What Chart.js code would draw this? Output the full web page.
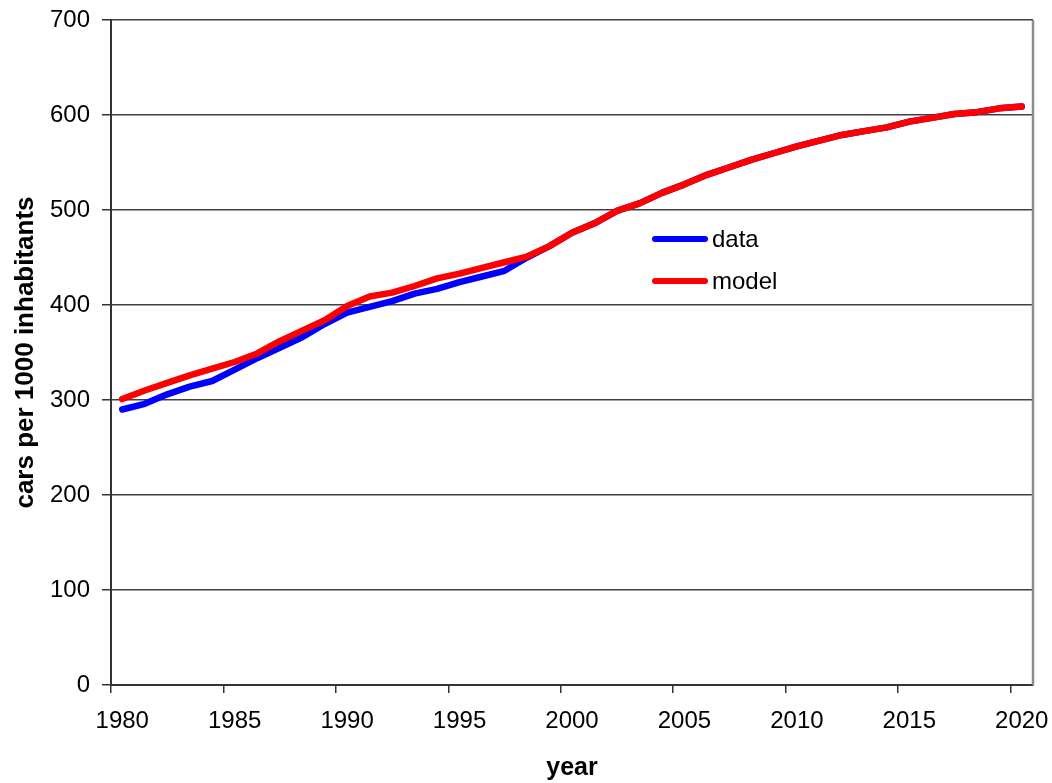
<!DOCTYPE html>
<html>
<head>
<meta charset="utf-8">
<title>cars per 1000 inhabitants</title>
<script src="https://cdn.jsdelivr.net/npm/chart.js@4.4.1/dist/chart.umd.min.js"></script>
<style>
  html, body { margin: 0; padding: 0; background: #fff; }
  #wrap { width: 1052px; height: 783px; position: relative; }
</style>
</head>
<body>
<div id="wrap"><canvas id="carsChart"></canvas></div>
<script>
// years on the category axis, 1980..2020
const years = ['1980', '1981', '1982', '1983', '1984', '1985', '1986', '1987', '1988', '1989',
    '1990', '1991', '1992', '1993', '1994', '1995', '1996', '1997', '1998', '1999',
    '2000', '2001', '2002', '2003', '2004', '2005', '2006', '2007', '2008', '2009',
    '2010', '2011', '2012', '2013', '2014', '2015', '2016', '2017', '2018', '2019', '2020'];

// observed car ownership
const dataValues = [290, 296, 306, 314, 320, 332, 344, 355, 366, 380,
    392, 398, 404, 412, 417, 424, 430, 436, 450, 462,
    476, 486, 499, 507, 518, 527, 537, 545, 553, 560,
    567, 573, 579, 583, 587, 593, 597, 601, 603, 607, 609];

// fitted model
const modelValues = [301, 310, 318, 326, 333, 340, 349, 362, 373, 384,
    399, 409, 413, 420, 428, 433, 439, 445, 451, 462,
    476, 486, 499, 507, 518, 527, 537, 545, 553, 560,
    567, 573, 579, 583, 587, 593, 597, 601, 603, 607, 609];

const yTicks = [0, 100, 200, 300, 400, 500, 600, 700];

const FONT = "'Liberation Sans', Arial, sans-serif";

// gray frame on the right side of the plot area
const plotFrame = {
    id: 'plotFrame',
    beforeDatasetsDraw(chart) {
        const { ctx, chartArea } = chart;
        ctx.save();
        ctx.strokeStyle = '#8c8c8c';
        ctx.lineWidth = 2.5;
        ctx.beginPath();
        ctx.moveTo(chartArea.right, chartArea.top);
        ctx.lineTo(chartArea.right, chartArea.bottom);
        ctx.stroke();
        ctx.restore();
    }
};

// legend box sitting inside the plot
const innerLegend = {
    id: 'innerLegend',
    afterDatasetsDraw(chart) {
        const { ctx, chartArea } = chart;
        const x0 = chartArea.left + 544;
        const y0 = chartArea.top + 219;
        ctx.save();
        ctx.font = '24px ' + FONT;
        ctx.textBaseline = 'middle';
        ctx.textAlign = 'left';
        chart.data.datasets.forEach((ds, i) => {
            const y = y0 + i * 42;
            ctx.strokeStyle = ds.borderColor;
            ctx.lineWidth = 6;
            ctx.lineCap = 'round';
            ctx.beginPath();
            ctx.moveTo(x0, y);
            ctx.lineTo(x0 + 50, y);
            ctx.stroke();
            ctx.fillStyle = '#000';
            ctx.fillText(ds.label, x0 + 57, y + 1);
        });
        ctx.restore();
    }
};

function createChart(canvasId) {
    const ctx = document.getElementById(canvasId).getContext('2d');

    Chart.defaults.color = '#000';
    Chart.defaults.font.family = FONT;

    new Chart(ctx, {
        type: 'line',
        data: {
            labels: years,
            datasets: [{
                label: 'data',
                data: dataValues,
                borderColor: '#0000ff',
                borderWidth: 6.5,
                pointRadius: 0,
                tension: 0,
                borderCapStyle: 'round',
                borderJoinStyle: 'round',
                order: 2
            }, {
                label: 'model',
                data: modelValues,
                borderColor: '#ff0000',
                borderWidth: 6.5,
                pointRadius: 0,
                tension: 0,
                borderCapStyle: 'round',
                borderJoinStyle: 'round',
                order: 1
            }]
        },
        options: {
            responsive: true,
            maintainAspectRatio: false,
            animation: false,
            layout: {
                padding: { top: 20, right: 19, left: 0, bottom: 0 }
            },
            scales: {
                x: {
                    type: 'category',
                    offset: true,
                    grid: {
                        offset: true,
                        drawOnChartArea: false,
                        tickLength: 8,
                        lineWidth: 1.5,
                        // tick marks only every five years
                        color: c => (c.index % 5 === 0 ? '#333' : 'rgba(0,0,0,0)')
                    },
                    border: {
                        display: true,
                        color: '#333',
                        width: 2
                    },
                    ticks: {
                        autoSkip: false,
                        maxRotation: 0,
                        padding: 14,
                        font: { size: 24 },
                        callback: function (value, index) {
                            return index % 5 === 0 ? this.getLabelForValue(value) : '';
                        }
                    },
                    title: {
                        display: true,
                        text: 'year',
                        font: { size: 25, weight: 'bold' },
                        padding: { top: 0, bottom: 0 }
                    },
                    afterFit: scale => {
                        scale.height = 98;
                        // let the end labels hang past the plot edge
                        scale.paddingLeft = 0;
                        scale.paddingRight = 0;
                    }
                },
                y: {
                    min: 0,
                    max: 700,
                    afterBuildTicks: scale => {
                        scale.ticks = yTicks.map(v => ({ value: v }));
                    },
                    grid: {
                        color: '#404040',
                        lineWidth: 1.5,
                        tickLength: 9,
                        tickColor: '#333'
                    },
                    border: {
                        display: true,
                        color: '#333',
                        width: 2
                    },
                    ticks: {
                        padding: 12,
                        font: { size: 24 }
                    },
                    title: {
                        display: true,
                        text: 'cars per 1000 inhabitants',
                        font: { size: 26, weight: 'bold' },
                        padding: { top: 10, bottom: 0 }
                    },
                    afterFit: scale => {
                        scale.width = 111;
                        scale.paddingTop = 0;
                        scale.paddingBottom = 0;
                    }
                }
            },
            plugins: {
                legend: {
                    display: false
                },
                tooltip: {
                    enabled: false
                }
            }
        },
        plugins: [plotFrame, innerLegend]
    });
}

createChart('carsChart');
</script>
</body>
</html>
